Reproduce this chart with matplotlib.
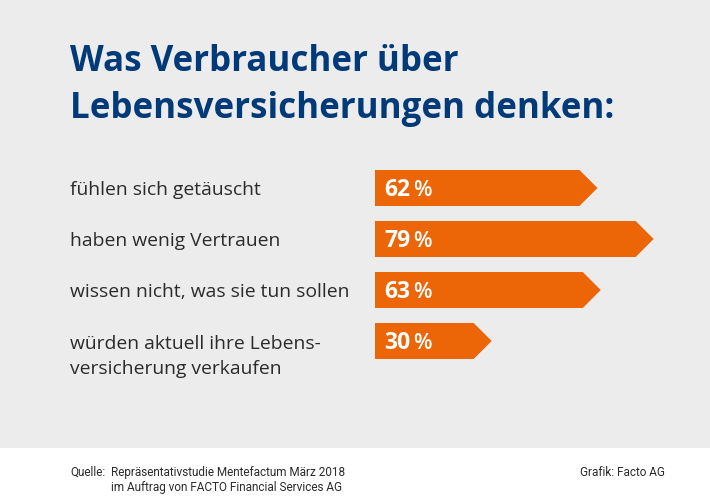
import matplotlib
matplotlib.use("Agg")
import matplotlib.pyplot as plt
from matplotlib.patches import Rectangle

W, H = 710, 496

categories = [
    ["fühlen sich getäuscht"],
    ["haben wenig Vertrauen"],
    ["wissen nicht, was sie tun sollen"],
    ["würden aktuell ihre Lebens-", "versicherung verkaufen"],
]
values = [62, 79, 63, 30]
value_labels = ["62", "79", "63", "30"]

title_lines = ["Was Verbraucher über", "Lebensversicherungen denken:"]
source_label = "Quelle:"
source_lines = ["Repräsentativstudie Mentefactum März 2018",
                "im Auftrag von FACTO Financial Services AG"]
credit = "Grafik: Facto AG"

GREY = "#ECECEC"
ORANGE = "#EC6608"
NAVY = "#003A78"
TEXT = "#2B2B2B"

plt.rcParams["font.family"] = "Open Sans"


def px_x(x):
    return x / W


def px_y(y):
    return 1 - y / H


fig = plt.figure(figsize=(W / 100, H / 100), dpi=100, facecolor="white")

# grey panel behind everything, white strip stays at the bottom
fig.patches.append(Rectangle((0, px_y(448)), 1, 448 / H, transform=fig.transFigure,
                             facecolor=GREY, edgecolor="none", zorder=-1))

# bars: 3.306 px per percent, the arrow head sits on top of the value
px_per_pct = 3.306
ax = fig.add_axes([px_x(374.5), px_y(370), 300 / W, 210 / H])
ax.set_xlim(0, 300 / px_per_pct)
ax.set_ylim(370, 160)
ax.axis("off")
ax.patch.set_alpha(0)

bar_h = 36
head = 18 / px_per_pct
y_pos = [188, 239, 290, 341]
for y, v, lab in zip(y_pos, values, value_labels):
    top, bottom = y - bar_h / 2, y + bar_h / 2
    ax.fill([0, v, v + head, v, 0], [top, top, y, bottom, bottom], color=ORANGE, linewidth=0)
    ax.text(10 / px_per_pct, y + 8, lab, color="white", fontsize=16.5, fontweight="bold",
            ha="left", va="baseline")
    ax.text(39 / px_per_pct, y + 8, "%", color="white", fontsize=15.5, fontweight="semibold",
            ha="left", va="baseline")

title_base = [71, 118]
for base, line in zip(title_base, title_lines):
    fig.text(px_x(70), px_y(base), line, color=NAVY, fontsize=25.1,
             fontweight="bold", ha="left", va="baseline")

label_base = [195, 246, 297, 349]
for base, lines in zip(label_base, categories):
    for i, line in enumerate(lines):
        fig.text(px_x(70.5), px_y(base + i * 25), line, color=TEXT, fontsize=13.85,
                 ha="left", va="baseline")

fig.text(px_x(70), px_y(476), source_label, color=TEXT, fontsize=8.5, family="Roboto", va="baseline")
fig.text(px_x(111), px_y(476), source_lines[0], color=TEXT, fontsize=8.5, family="Roboto", va="baseline")
fig.text(px_x(111), px_y(491), source_lines[1], color=TEXT, fontsize=8.5, family="Roboto", va="baseline")
fig.text(px_x(665), px_y(476), credit, color=TEXT, fontsize=8.5, family="Roboto", ha="right", va="baseline")

fig.savefig("out.png", dpi=100, facecolor="white")
